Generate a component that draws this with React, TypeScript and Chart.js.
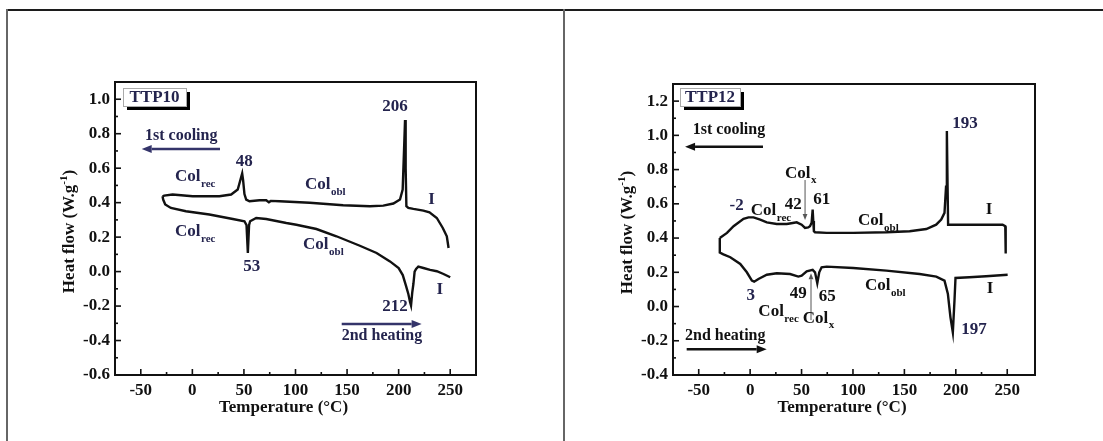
import React, { useEffect, useRef } from "react";
import { Chart, registerables } from "chart.js";

Chart.register(...registerables);

const NAVY = "#24244e";
const INK = "#111111";
const GRAYLINE = "#666666";
const FONT = "'Liberation Serif', 'Times New Roman', serif";

// ---- axis ticks ----
const tempTicks = [-50, 0, 50, 100, 150, 200, 250];
const flowTicks10 = [-0.6, -0.4, -0.2, 0.0, 0.2, 0.4, 0.6, 0.8, 1.0];
const flowTicks12 = [-0.4, -0.2, 0.0, 0.2, 0.4, 0.6, 0.8, 1.0, 1.2];

// ---- TTP10 : 1st cooling ----
const coolTemp10 = [-28.9, -27.3, -19.2, 0.3, 26.2, 37.6, 44.0, 48.3, 49.2, 50.5, 52.2, 55.4, 65.1, 71.6, 74.2, 76.0, 84.6, 113.8, 146.2, 172.1, 185.1, 194.9, 201.3, 203.9, 205.2, 206.2, 206.8, 207.5, 209.4, 214.3, 224.0, 229.9, 237.0, 242.8, 246.7, 248.4];
const coolFlow10 = [0.437, 0.441, 0.447, 0.437, 0.437, 0.447, 0.476, 0.569, 0.53, 0.45, 0.418, 0.408, 0.414, 0.414, 0.402, 0.41, 0.408, 0.399, 0.385, 0.379, 0.383, 0.395, 0.418, 0.476, 0.7, 0.88, 0.6, 0.38, 0.37, 0.364, 0.354, 0.344, 0.311, 0.253, 0.205, 0.137];
// ---- TTP10 : 2nd heating ----
const heatTemp10 = [-28.9, -28.3, -26.3, -20.8, -6.2, 16.5, 39.2, 50.5, 52.5, 53.8, 55.0, 56.0, 61.9, 71.6, 91.1, 100.8, 120.3, 139.7, 162.4, 178.6, 191.6, 200.0, 204.0, 207.0, 209.4, 211.1, 212.0, 213.2, 214.3, 215.5, 216.9, 219.1, 224.0, 230.5, 237.0, 243.5, 250.0];
const heatFlow10 = [0.437, 0.418, 0.389, 0.369, 0.35, 0.331, 0.305, 0.292, 0.27, 0.108, 0.27, 0.292, 0.311, 0.305, 0.282, 0.272, 0.247, 0.205, 0.15, 0.108, 0.059, 0.02, -0.02, -0.08, -0.13, -0.178, -0.197, -0.12, -0.072, 0.0, 0.015, 0.029, 0.021, 0.01, 0.002, -0.014, -0.033];

// ---- TTP12 : 1st cooling ----
const coolTemp12 = [-29.5, -22.5, -16.1, -6.4, -1.6, 3.3, 9.8, 16.2, 25.9, 35.6, 41.4, 45.3, 50.1, 53.4, 56.5, 58.2, 59.8, 60.8, 61.4, 62.0, 63.1, 74.4, 100.2, 132.5, 155.1, 171.3, 180.9, 185.8, 189.0, 190.5, 191.3, 192.0, 192.5, 197.1, 229.4, 245.5, 248.1, 248.5];
const coolFlow12 = [0.4, 0.43, 0.469, 0.512, 0.521, 0.521, 0.508, 0.492, 0.482, 0.482, 0.488, 0.492, 0.478, 0.459, 0.462, 0.469, 0.49, 0.566, 0.5, 0.44, 0.434, 0.43, 0.43, 0.434, 0.44, 0.453, 0.478, 0.508, 0.547, 0.7, 1.025, 0.7, 0.478, 0.478, 0.478, 0.478, 0.469, 0.31];
// ---- TTP12 : 2nd heating ----
const heatTemp12 = [-29.5, -29.5, -26.0, -19.3, -9.6, -3.2, 1.7, 3.9, 8.1, 16.2, 25.9, 38.8, 46.9, 50.1, 55.0, 60.8, 63.1, 65.3, 67.2, 69.5, 74.4, 100.2, 132.5, 164.8, 181.0, 189.0, 192.3, 194.8, 197.1, 198.7, 199.7, 213.2, 229.4, 250.4];
const heatFlow12 = [0.4, 0.315, 0.305, 0.288, 0.249, 0.2, 0.151, 0.145, 0.161, 0.186, 0.194, 0.19, 0.175, 0.18, 0.206, 0.214, 0.2, 0.136, 0.2, 0.229, 0.233, 0.225, 0.21, 0.19, 0.175, 0.151, 0.073, -0.063, -0.151, 0.034, 0.167, 0.171, 0.177, 0.186];

type Note = { x: number; y: number; text: string; sub?: string; color?: string; align?: CanvasTextAlign; size?: number };
type Arrow = { x1: number; y1: number; x2: number; y2: number; color: string; width: number; head: number };

const notes10: Note[] = [
  { x: 50.4, y: 0.638, text: "48" },
  { x: 196.5, y: 0.957, text: "206" },
  { x: 57.5, y: 0.028, text: "53" },
  { x: 196.5, y: -0.204, text: "212" },
  { x: 232, y: 0.415, text: "I" },
  { x: 240, y: -0.107, text: "I" },
  { x: -16.8, y: 0.551, text: "Col", sub: "rec", align: "left" },
  { x: 109.2, y: 0.502, text: "Col", sub: "obl", align: "left" },
  { x: -16.8, y: 0.232, text: "Col", sub: "rec", align: "left" },
  { x: 107.3, y: 0.154, text: "Col", sub: "obl", align: "left" },
  { x: -45.9, y: 0.787, text: "1st cooling", align: "left", size: 16 },
  { x: 144.8, y: -0.374, text: "2nd heating", align: "left", size: 16 },
];
const arrows10: Arrow[] = [
  { x1: 26.8, y1: 0.711, x2: -49.1, y2: 0.711, color: "#34346a", width: 2.5, head: 10 },
  { x1: 144.8, y1: -0.304, x2: 222.3, y2: -0.304, color: "#34346a", width: 2.5, head: 10 },
];

const notes12: Note[] = [
  { x: -55.8, y: 1.031, text: "1st cooling", align: "left", size: 16, color: INK },
  { x: 33.9, y: 0.778, text: "Col", sub: "x", align: "left", color: INK },
  { x: -13.1, y: 0.587, text: "-2" },
  { x: 0.6, y: 0.56, text: "Col", sub: "rec", align: "left", color: INK },
  { x: 42, y: 0.593, text: "42", color: INK },
  { x: 69.6, y: 0.622, text: "61", color: INK },
  { x: 104.9, y: 0.501, text: "Col", sub: "obl", align: "left", color: INK },
  { x: 209, y: 1.07, text: "193" },
  { x: 232.3, y: 0.564, text: "I", color: INK },
  { x: 0.6, y: 0.061, text: "3" },
  { x: 46.8, y: 0.077, text: "49", color: INK },
  { x: 75.1, y: 0.057, text: "65", color: INK },
  { x: 111.7, y: 0.12, text: "Col", sub: "obl", align: "left", color: INK },
  { x: 233.3, y: 0.106, text: "I", color: INK },
  { x: 8, y: -0.03, text: "Col", sub: "rec", align: "left", color: INK },
  { x: 51.1, y: -0.069, text: "Col", sub: "x", align: "left", color: INK },
  { x: 217.7, y: -0.137, text: "197" },
  { x: -63.3, y: -0.172, text: "2nd heating", align: "left", size: 16, color: INK },
];
const arrows12: Arrow[] = [
  { x1: 12.5, y1: 0.934, x2: -63.3, y2: 0.934, color: INK, width: 2.5, head: 10 },
  { x1: -61.7, y1: -0.25, x2: 16.1, y2: -0.25, color: INK, width: 2.5, head: 10 },
  { x1: 53.4, y1: 0.739, x2: 53.4, y2: 0.505, color: "#555555", width: 1, head: 6 },
  { x1: 59.2, y1: -0.079, x2: 59.2, y2: 0.194, color: "#555555", width: 1, head: 6 },
];

type Panel = {
  left: number;
  width: number;
  padding: { left: number; right: number; top: number; bottom: number };
  xMax: number;
  yMin: number;
  yMax: number;
  yTicks: number[];
  series: { t: number[]; f: number[] }[];
  notes: Note[];
  arrows: Arrow[];
  tag: string;
  tagBox: { dx: number; dy: number; w: number; h: number };
};

const panels: Panel[] = [
  {
    left: 0,
    width: 563,
    padding: { left: 55, right: 87, top: 82, bottom: 26 },
    xMax: 275,
    yMin: -0.6,
    yMax: 1.1,
    yTicks: flowTicks10,
    series: [
      { t: coolTemp10, f: coolFlow10 },
      { t: heatTemp10, f: heatFlow10 },
    ],
    notes: notes10,
    arrows: arrows10,
    tag: "TTP10",
    tagBox: { dx: 8, dy: 6, w: 63, h: 18 },
  },
  {
    left: 563,
    width: 540,
    padding: { left: 50, right: 68, top: 84, bottom: 26 },
    xMax: 277,
    yMin: -0.4,
    yMax: 1.3,
    yTicks: flowTicks12,
    series: [
      { t: coolTemp12, f: coolFlow12 },
      { t: heatTemp12, f: heatFlow12 },
    ],
    notes: notes12,
    arrows: arrows12,
    tag: "TTP12",
    tagBox: { dx: 7, dy: 4, w: 60, h: 18 },
  },
];

function drawNote(ctx: CanvasRenderingContext2D, px: number, py: number, n: Note) {
  const size = n.size || 17;
  ctx.fillStyle = n.color || NAVY;
  ctx.font = `bold ${size}px ${FONT}`;
  ctx.textBaseline = "middle";
  if (!n.sub) {
    ctx.textAlign = n.align || "center";
    ctx.fillText(n.text, px, py);
    return;
  }
  ctx.textAlign = "left";
  const w = ctx.measureText(n.text).width;
  ctx.fillText(n.text, px, py);
  ctx.font = `bold 11px ${FONT}`;
  ctx.textBaseline = "alphabetic";
  ctx.fillText(n.sub, px + w + 0.5, py + 10);
}

function drawArrow(ctx: CanvasRenderingContext2D, a: Arrow, xs: any, ys: any) {
  const x1 = xs.getPixelForValue(a.x1);
  const y1 = ys.getPixelForValue(a.y1);
  const x2 = xs.getPixelForValue(a.x2);
  const y2 = ys.getPixelForValue(a.y2);
  const ang = Math.atan2(y2 - y1, x2 - x1);
  const hl = a.head;
  const hw = a.head * 0.4;
  const bx = x2 - Math.cos(ang) * hl;
  const by = y2 - Math.sin(ang) * hl;
  ctx.strokeStyle = a.color;
  ctx.fillStyle = a.color;
  ctx.lineWidth = a.width;
  ctx.beginPath();
  ctx.moveTo(x1, y1);
  ctx.lineTo(bx, by);
  ctx.stroke();
  ctx.beginPath();
  ctx.moveTo(x2, y2);
  ctx.lineTo(bx - Math.sin(ang) * hw, by + Math.cos(ang) * hw);
  ctx.lineTo(bx + Math.sin(ang) * hw, by - Math.cos(ang) * hw);
  ctx.closePath();
  ctx.fill();
}

function makePlugin(p: Panel) {
  return {
    id: "dscDecor",
    afterDraw(chart: any) {
      const ctx: CanvasRenderingContext2D = chart.ctx;
      const ca = chart.chartArea;
      const xs = chart.scales.x;
      const ys = chart.scales.y;
      ctx.save();
      // frame
      ctx.strokeStyle = INK;
      ctx.lineWidth = 2;
      ctx.strokeRect(ca.left, ca.top, ca.right - ca.left, ca.bottom - ca.top);
      // inward ticks
      ctx.lineWidth = 1.6;
      const xt = tempTicks;
      for (let i = 0; i < xt.length; i++) {
        const px = xs.getPixelForValue(xt[i]);
        ctx.beginPath();
        ctx.moveTo(px, ca.bottom);
        ctx.lineTo(px, ca.bottom - 6);
        ctx.stroke();
        if (i < xt.length - 1) {
          const mx = xs.getPixelForValue((xt[i] + xt[i + 1]) / 2);
          ctx.beginPath();
          ctx.moveTo(mx, ca.bottom);
          ctx.lineTo(mx, ca.bottom - 3);
          ctx.stroke();
        }
      }
      const yt = p.yTicks;
      for (let i = 0; i < yt.length; i++) {
        const py = ys.getPixelForValue(yt[i]);
        ctx.beginPath();
        ctx.moveTo(ca.left, py);
        ctx.lineTo(ca.left + 6, py);
        ctx.stroke();
        if (i < yt.length - 1) {
          const my = ys.getPixelForValue((yt[i] + yt[i + 1]) / 2);
          ctx.beginPath();
          ctx.moveTo(ca.left, my);
          ctx.lineTo(ca.left + 3, my);
          ctx.stroke();
        }
      }
      // axis titles
      ctx.fillStyle = INK;
      ctx.font = `bold 17px ${FONT}`;
      ctx.textAlign = "center";
      ctx.textBaseline = "middle";
      ctx.fillText("Temperature (°C)", (ca.left + ca.right) / 2 - 12, ca.bottom + 33);

      ctx.save();
      ctx.translate(ca.left - 45, (ca.top + ca.bottom) / 2 + 3);
      ctx.rotate(-Math.PI / 2);
      const main = "Heat flow (W.g";
      ctx.font = `bold 17px ${FONT}`;
      const w1 = ctx.measureText(main).width;
      const w3 = ctx.measureText(")").width;
      ctx.font = `bold 11px ${FONT}`;
      const w2 = ctx.measureText("-1").width;
      const total = w1 + w2 + w3;
      let cx = -total / 2;
      ctx.textAlign = "left";
      ctx.font = `bold 17px ${FONT}`;
      ctx.fillText(main, cx, 0);
      cx += w1;
      ctx.font = `bold 11px ${FONT}`;
      ctx.fillText("-1", cx, -6);
      cx += w2;
      ctx.font = `bold 17px ${FONT}`;
      ctx.fillText(")", cx, 0);
      ctx.restore();

      // tag box
      const b = p.tagBox;
      const bx = ca.left + b.dx;
      const by = ca.top + b.dy;
      ctx.fillStyle = "#000000";
      ctx.fillRect(bx + 4, by + 4, b.w, b.h);
      ctx.fillStyle = "#ffffff";
      ctx.fillRect(bx, by, b.w, b.h);
      ctx.strokeStyle = "#aaaaaa";
      ctx.lineWidth = 1;
      ctx.strokeRect(bx + 0.5, by + 0.5, b.w, b.h);
      ctx.fillStyle = NAVY;
      ctx.font = `bold 17px ${FONT}`;
      ctx.textAlign = "center";
      ctx.textBaseline = "middle";
      ctx.fillText(p.tag, bx + b.w / 2, by + b.h / 2 + 1);

      // arrows and notes
      p.arrows.forEach((a) => drawArrow(ctx, a, xs, ys));
      p.notes.forEach((n) => drawNote(ctx, xs.getPixelForValue(n.x), ys.getPixelForValue(n.y), n));
      ctx.restore();
    },
  };
}

function PanelChart({ p }: { p: Panel }) {
  const ref = useRef<HTMLCanvasElement | null>(null);
  useEffect(() => {
    if (!ref.current) return;
    const tickFont = { family: FONT, size: 17, weight: "bold" as const };
    const chart = new Chart(ref.current, {
      type: "scatter",
      data: {
        datasets: p.series.map((s) => ({
          data: s.t.map((t, i) => ({ x: t, y: s.f[i] })),
          showLine: true,
          borderColor: INK,
          borderWidth: 2.4,
          pointRadius: 0,
          tension: 0,
          fill: false,
        })),
      },
      options: {
        responsive: false,
        animation: false,
        events: [],
        layout: { padding: p.padding },
        plugins: { legend: { display: false }, tooltip: { enabled: false } },
        scales: {
          x: {
            type: "linear",
            min: -75,
            max: p.xMax,
            grid: { display: false, drawTicks: false },
            border: { display: false },
            afterBuildTicks: (s: any) => {
              s.ticks = tempTicks.map((v) => ({ value: v }));
            },
            afterFit: (s: any) => {
              s.height = 40;
            },
            ticks: {
              padding: 5,
              color: INK,
              font: tickFont,
              maxRotation: 0,
              autoSkip: false,
              callback: (v: any) => String(v),
            },
          },
          y: {
            type: "linear",
            min: p.yMin,
            max: p.yMax,
            grid: { display: false, drawTicks: false },
            border: { display: false },
            afterBuildTicks: (s: any) => {
              s.ticks = p.yTicks.map((v) => ({ value: v }));
            },
            afterFit: (s: any) => {
              s.width = 60;
            },
            ticks: {
              padding: 5,
              color: INK,
              font: tickFont,
              autoSkip: false,
              callback: (v: any) => Number(v).toFixed(1),
            },
          },
        },
      },
      plugins: [makePlugin(p)],
    } as any);
    return () => chart.destroy();
  }, [p]);
  return (
    <canvas
      ref={ref}
      width={p.width}
      height={441}
      style={{ position: "absolute", left: p.left, top: 0, width: p.width, height: 441, display: "block" }}
    />
  );
}

export default function App() {
  return (
    <div style={{ position: "absolute", left: 0, top: 0, width: 1103, height: 441, background: "#ffffff", overflow: "hidden" }}>
      {panels.map((p, i) => (
        <PanelChart key={i} p={p} />
      ))}
      <div style={{ position: "absolute", left: 6, top: 9, width: 1097, height: 2, background: "#1c1c1c" }} />
      <div style={{ position: "absolute", left: 6, top: 9, width: 2, height: 432, background: GRAYLINE }} />
      <div style={{ position: "absolute", left: 563, top: 9, width: 2, height: 432, background: GRAYLINE }} />
    </div>
  );
}
